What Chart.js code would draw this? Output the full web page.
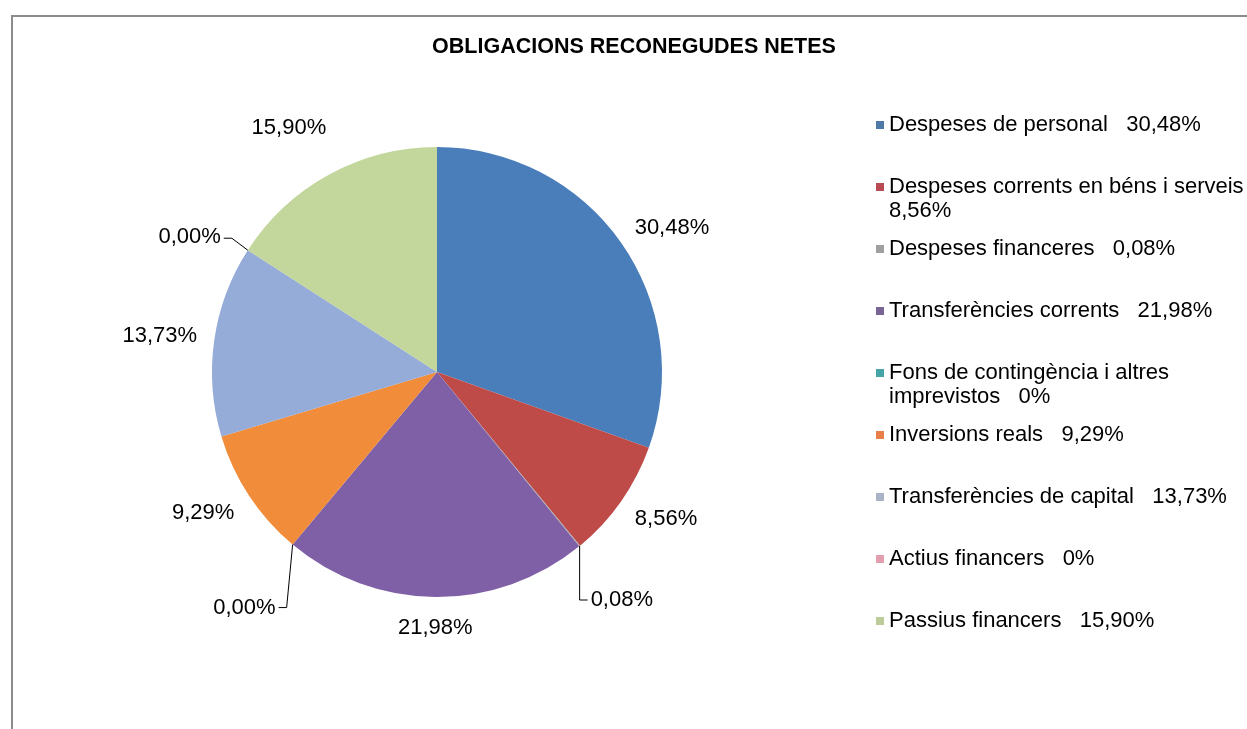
<!DOCTYPE html>
<html>
<head>
<meta charset="utf-8">
<script src="https://cdn.jsdelivr.net/npm/chart.js@4/dist/chart.umd.min.js"></script>
<style>
  html, body { margin: 0; padding: 0; background: #fff; }
  canvas { display: block; }
</style>
</head>
<body>
<canvas id="pieChart" width="1247" height="729"></canvas>
<script>
const chartTitle = 'OBLIGACIONS RECONEGUDES NETES';
const categories = [
    'Despeses de personal',
    'Despeses corrents en béns i serveis',
    'Despeses financeres',
    'Transferències corrents',
    'Fons de contingència i altres imprevistos',
    'Inversions reals',
    'Transferències de capital',
    'Actius financers',
    'Passius financers'
];
const percentages = [30.48, 8.56, 0.08, 21.98, 0, 9.29, 13.73, 0, 15.90];

const sliceColors = ['#4a7ebb', '#be4b48', '#a5a5a5', '#7f5fa6', '#4bacc6', '#f08c3a', '#95abd8', '#d99694', '#c3d69b'];
const legendColors = ['#4d7aa6', '#b84a55', '#a0a0a0', '#7a6496', '#45a5a8', '#e8804a', '#a9b3c4', '#e0a0b0', '#bccb9a'];
// leader lines for the tiny slices: points relative to the slice edge, then label anchor
const leaders = {
    2: { pts: [[0, 54], [8, 54]], label: [11, 54], align: 'left' },
    4: { pts: [[-6, 63], [-14, 63]], label: [-17, 63], align: 'right' },
    7: { pts: [[-16, -12], [-24, -12]], label: [-27, -13], align: 'right' }
};
const labelNudge = { 8: [-14, -19], 0: [6, 3] };

const FONT = '"Liberation Sans", Arial, sans-serif';
const fmt = v => v.toFixed(2).replace('.', ',') + '%';

const decorations = {
    id: 'decorations',
    beforeDraw(chart) {
        const ctx = chart.ctx;
        ctx.save();
        ctx.strokeStyle = '#8c8c8c';
        ctx.lineWidth = 2;
        ctx.beginPath();
        ctx.moveTo(12, 729);
        ctx.lineTo(12, 16);
        ctx.lineTo(1247, 16);
        ctx.stroke();
        ctx.restore();
    },
    afterDraw(chart) {
        const ctx = chart.ctx;
        ctx.save();

        // title
        ctx.fillStyle = '#000';
        ctx.font = 'bold 21.5px ' + FONT;
        ctx.textAlign = 'center';
        ctx.textBaseline = 'middle';
        ctx.fillText(chartTitle, 634, 47);

        // data labels
        ctx.font = '22px ' + FONT;
        ctx.strokeStyle = '#000';
        ctx.lineWidth = 1;
        const meta = chart.getDatasetMeta(0);
        meta.data.forEach((arc, i) => {
            const p = arc.getProps(['x', 'y', 'startAngle', 'endAngle', 'outerRadius'], true);
            const mid = (p.startAngle + p.endAngle) / 2;
            const txt = fmt(percentages[i]);
            const lead = leaders[i];
            if (lead) {
                const ex = p.x + Math.cos(mid) * p.outerRadius;
                const ey = p.y + Math.sin(mid) * p.outerRadius;
                ctx.beginPath();
                ctx.moveTo(ex, ey);
                lead.pts.forEach(([dx, dy]) => ctx.lineTo(ex + dx, ey + dy));
                ctx.stroke();
                ctx.textAlign = lead.align;
                ctx.fillText(txt, ex + lead.label[0], ey + lead.label[1]);
            } else {
                const n = labelNudge[i] || [0, 0];
                ctx.textAlign = 'center';
                ctx.fillText(txt,
                    p.x + Math.cos(mid) * (p.outerRadius + 55) + n[0],
                    p.y + Math.sin(mid) * (p.outerRadius + 31) + n[1]);
            }
        });

        // legend
        const lx = 876, tx = 889, maxW = 358;
        ctx.textAlign = 'left';
        categories.forEach((name, i) => {
            const y0 = 125 + 62 * i;
            ctx.fillStyle = legendColors[i];
            ctx.fillRect(lx, y0 - 4, 8, 8);
            ctx.fillStyle = '#000';
            const tokens = name.split(' ').map(w => [' ', w]);
            tokens.push(['   ', percentages[i] === 0 ? '0%' : fmt(percentages[i])]);
            let line = '', lines = [];
            tokens.forEach(([sep, w]) => {
                const test = line ? line + sep + w : w;
                if (ctx.measureText(test).width > maxW && line) {
                    lines.push(line);
                    line = w;
                } else {
                    line = test;
                }
            });
            lines.push(line);
            lines.forEach((l, k) => ctx.fillText(l, tx, y0 + 24 * k));
        });
        ctx.restore();
    }
};

new Chart(document.getElementById('pieChart').getContext('2d'), {
    type: 'pie',
    data: {
        labels: categories,
        datasets: [{
            data: percentages,
            backgroundColor: sliceColors,
            borderWidth: 0
        }]
    },
    options: {
        responsive: false,
        animation: false,
        devicePixelRatio: 1,
        layout: { padding: { left: 212, right: 585, top: 147, bottom: 132 } },
        plugins: {
            legend: { display: false },
            tooltip: { enabled: false }
        }
    },
    plugins: [decorations]
});
</script>
</body>
</html>
